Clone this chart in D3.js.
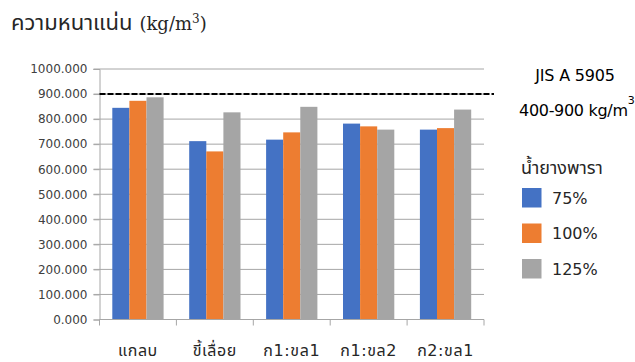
<!DOCTYPE html>
<html>
<head>
<meta charset="utf-8">
<script src="https://cdn.jsdelivr.net/npm/d3@7"></script>
<style>
  html, body { margin: 0; padding: 0; background: #fff; }
  svg { display: block; }
  text { font-family: "DejaVu Sans", "Noto Sans", "Noto Sans Thai", sans-serif; }
</style>
</head>
<body>
<svg id="chart" width="635" height="362"></svg>
<script>
// Board density by filler material and rubber latex content
const categories = ["แกลบ", "ขี้เลื่อย", "ก1:ขล1", "ก1:ขล2", "ก2:ขล1"];
const seriesNames = ["75%", "100%", "125%"];
const values75 = [845, 712, 718, 782, 758];
const values100 = [873, 671, 747, 771, 764];
const values125 = [887, 827, 849, 758, 838];
const seriesColors = ["#4472C4", "#ED7D31", "#A5A5A5"];
const yTicks = [0, 100, 200, 300, 400, 500, 600, 700, 800, 900, 1000];
const standardLimit = 900;

const seriesValues = [values75, values100, values125];

const svg = d3.select("#chart");
const margin = { left: 99.5, right: 151, top: 69, bottom: 42.5 };
const W = 635, H = 362;

const x = d3.scaleBand()
  .domain(categories)
  .range([margin.left, W - margin.right])
  .paddingInner(0.333)
  .paddingOuter(0.1665);

const xSub = d3.scaleBand()
  .domain(seriesNames)
  .range([0, x.bandwidth()]);

const y = d3.scaleLinear()
  .domain([0, 1000])
  .range([H - margin.bottom, margin.top]);

// Gridlines
svg.append("g")
  .selectAll("line")
  .data(yTicks.filter(d => d > 0))
  .join("line")
  .attr("x1", margin.left - 6)
  .attr("x2", W - margin.right)
  .attr("y1", d => y(d))
  .attr("y2", d => y(d))
  .attr("stroke", "#a6a6a6")
  .attr("stroke-width", 1);

// Y axis labels
const yAxis = d3.axisLeft(y)
  .tickValues(yTicks)
  .tickFormat(d3.format(".3f"))
  .tickSize(6)
  .tickPadding(6);
const gy = svg.append("g")
  .attr("transform", `translate(${margin.left},0)`)
  .call(yAxis);
gy.select(".domain").attr("stroke", "#a6a6a6");
gy.selectAll(".tick line").attr("stroke", "#a6a6a6");
gy.selectAll(".tick text")
  .attr("fill", "#404040")
  .style("font-family", "'DejaVu Sans', sans-serif")
  .style("font-size", "12px")
  .style("letter-spacing", "0px");

// Bars
const groups = svg.append("g")
  .selectAll("g")
  .data(categories)
  .join("g")
  .attr("transform", d => `translate(${x(d)},0)`);

groups.selectAll("rect")
  .data((c, i) => seriesNames.map((s, j) => ({ s, j, v: seriesValues[j][i] })))
  .join("rect")
  .attr("x", d => xSub(d.s))
  .attr("width", xSub.bandwidth())
  .attr("y", d => y(d.v))
  .attr("height", d => y(0) - y(d.v))
  .attr("fill", d => seriesColors[d.j]);

// X axis
const xAxisLine = svg.append("g");
xAxisLine.append("line")
  .attr("x1", margin.left)
  .attr("x2", W - margin.right)
  .attr("y1", y(0))
  .attr("y2", y(0))
  .attr("stroke", "#a6a6a6");
const boundaries = categories.map(c => x(c) - x.step() * x.paddingInner() / 2)
  .concat([W - margin.right]);
xAxisLine.selectAll("line.tick")
  .data(boundaries)
  .join("line")
  .attr("class", "tick")
  .attr("x1", d => d)
  .attr("x2", d => d)
  .attr("y1", y(0))
  .attr("y2", y(0) + 6)
  .attr("stroke", "#a6a6a6");

svg.append("g")
  .selectAll("text")
  .data(categories)
  .join("text")
  .attr("x", d => x(d) + x.bandwidth() / 2)
  .attr("y", 356)
  .attr("text-anchor", "middle")
  .attr("fill", "#262626")
  .style("font-size", "16px")
  .style("letter-spacing", "0.6px")
  .text(d => d);

// Standard limit line
svg.append("line")
  .attr("x1", margin.left)
  .attr("x2", 494)
  .attr("y1", y(standardLimit))
  .attr("y2", y(standardLimit))
  .attr("stroke", "#000")
  .attr("stroke-width", 2)
  .attr("stroke-dasharray", "6,2");

// Title
const title = svg.append("text")
  .attr("x", 11)
  .attr("y", 30)
  .attr("fill", "#262626")
  .style("font-size", "22px");
title.append("tspan").text("ความหนาแน่น ");
const unit = title.append("tspan").style("font-family", "'DejaVu Serif', serif").style("font-size", "18px");
unit.append("tspan").text("(kg/m");
unit.append("tspan").attr("dy", -7).style("font-size", "12px").text("3");
unit.append("tspan").attr("dy", 7).text(")");

// Standard annotation
svg.append("text")
  .attr("x", 575)
  .attr("y", 81)
  .attr("text-anchor", "middle")
  .attr("fill", "#000")
  .style("font-size", "16px")
  .style("letter-spacing", "-0.2px")
  .text("JIS A 5905");

const std = svg.append("text")
  .attr("x", 519)
  .attr("y", 116)
  .attr("fill", "#000")
  .style("font-size", "16px")
  .style("letter-spacing", "-0.3px");
std.append("tspan").text("400-900 kg/m");
std.append("tspan").attr("dy", -12).style("font-size", "11px").text("3");

// Legend
svg.append("text")
  .attr("x", 521)
  .attr("y", 174)
  .attr("fill", "#262626")
  .style("font-size", "18px")
  .text("น้ำยางพารา");

const legend = svg.append("g")
  .selectAll("g")
  .data(seriesNames)
  .join("g")
  .attr("transform", (d, i) => `translate(522,${188 + i * 35.5})`);
legend.append("rect")
  .attr("width", 19.5)
  .attr("height", 19.5)
  .attr("fill", (d, i) => seriesColors[i]);
legend.append("text")
  .attr("x", 30)
  .attr("y", 15.5)
  .attr("fill", "#262626")
  .style("font-size", "16px")
  .text(d => d);
</script>
</body>
</html>
